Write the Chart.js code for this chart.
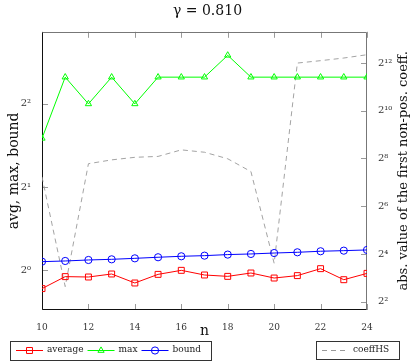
<!DOCTYPE html>
<html>
<head>
<meta charset="utf-8">
<script src="https://cdn.jsdelivr.net/npm/chart.js@4/dist/chart.umd.min.js"></script>
<style>
  html, body { margin: 0; padding: 0; background: #fff; }
  canvas { display: block; }
</style>
</head>
<body>
<canvas id="gammaChart" width="415" height="362"></canvas>
<script>
// values (log2 axes)
const nValues = [10, 11, 12, 13, 14, 15, 16, 17, 18, 19, 20, 21, 22, 23, 24];
const avgValues = [0.856, 0.946, 0.943, 0.967, 0.897, 0.964, 0.997, 0.959, 0.948, 0.975, 0.935, 0.954, 1.011, 0.922, 0.972];
const maxValues = [3, 5, 4, 5, 4, 5, 5, 5, 6, 5, 5, 5, 5, 5, 5];
const boundValues = [1.072, 1.078, 1.087, 1.093, 1.102, 1.112, 1.121, 1.127, 1.137, 1.143, 1.152, 1.159, 1.169, 1.175, 1.182];
const coeffValues = [150, 6.2, 220, 246, 265, 272, 329, 307, 254, 175, 12.2, 4096, 4390, 4740, 5220];

const xTicks = [10, 12, 14, 16, 18, 20, 22, 24];
const leftTicks = [1, 2, 4];
const rightTicks = [4, 16, 64, 256, 1024, 4096];
const rightTitle = 'abs. value of the first non-pos. coeff.';

const SERIF = '"DejaVu Serif", serif';
const supDigits = { '0': '⁰', '1': '¹', '2': '²', '3': '³', '4': '⁴', '5': '⁵', '6': '⁶', '7': '⁷', '8': '⁸', '9': '⁹' };

function powLabel(v) {
    const e = Math.round(Math.log2(v));
    return '2' + String(e).split('').map(c => supDigits[c]).join('');
}

function toPoints(values) {
    return nValues.map((n, i) => ({ x: n, y: values[i] }));
}

// inward tick marks and the axis frame, pgfplots style
const frameTicks = {
    id: 'frameTicks',
    beforeDatasetsDraw(chart) {
        const { ctx, chartArea: a, scales } = chart;
        const len = 6;
        ctx.save();
        ctx.lineWidth = 1;
        ctx.strokeStyle = '#9a9a9a';
        ctx.beginPath();
        xTicks.forEach(t => {
            const x = Math.round(scales.x.getPixelForValue(t)) + 0.5;
            ctx.moveTo(x, a.top); ctx.lineTo(x, a.top + len);
            ctx.moveTo(x, a.bottom); ctx.lineTo(x, a.bottom - len);
        });
        leftTicks.forEach(t => {
            const y = Math.round(scales.y.getPixelForValue(t)) + 0.5;
            ctx.moveTo(a.left, y); ctx.lineTo(a.left + len, y);
        });
        rightTicks.forEach(t => {
            const y = Math.round(scales.y2.getPixelForValue(t)) + 0.5;
            ctx.moveTo(a.right, y); ctx.lineTo(a.right - len, y);
        });
        ctx.stroke();

        const l = Math.round(a.left) + 0.5, r = Math.round(a.right) - 0.5;
        const t = Math.round(a.top) + 0.5, b = Math.round(a.bottom) - 0.5;
        ctx.strokeStyle = '#777';
        ctx.beginPath();
        ctx.moveTo(l, t); ctx.lineTo(r, t); ctx.lineTo(r, b);
        ctx.stroke();
        ctx.strokeStyle = '#111';
        ctx.beginPath();
        ctx.moveTo(l, t); ctx.lineTo(l, b); ctx.lineTo(r, b);
        ctx.stroke();

        // right axis title reads bottom-to-top like the left one
        ctx.fillStyle = '#111';
        ctx.font = '13px ' + SERIF;
        ctx.textAlign = 'center';
        ctx.textBaseline = 'middle';
        ctx.translate(404, (a.top + a.bottom) / 2);
        ctx.rotate(-Math.PI / 2);
        ctx.fillText(rightTitle, 0, 0);
        ctx.restore();
    }
};

// two boxed legends under the plot
const boxLegend = {
    id: 'boxLegend',
    afterDraw(chart) {
        const ctx = chart.ctx;
        const ds = chart.data.datasets;
        ctx.save();
        ctx.font = '9px ' + SERIF;
        ctx.textBaseline = 'middle';
        ctx.textAlign = 'left';

        ctx.lineWidth = 1;
        ctx.strokeStyle = '#333';
        ctx.setLineDash([]);
        ctx.strokeRect(10.5, 341.5, 201, 19);
        ctx.strokeRect(316.5, 341.5, 83, 18);

        const y = 350.5;
        let x = 16;
        for (let i = 0; i < 3; i++) {
            const d = ds[i];
            ctx.strokeStyle = d.borderColor;
            ctx.fillStyle = 'rgba(0,0,0,0)';
            ctx.lineWidth = 1;
            ctx.beginPath();
            ctx.moveTo(x, y); ctx.lineTo(x + 27, y);
            ctx.stroke();
            Chart.helpers.drawPoint(ctx, {
                pointStyle: d.pointStyle, radius: d.pointRadius, borderWidth: 1, rotation: 0
            }, x + 13.5, y);
            ctx.fillStyle = '#222';
            ctx.fillText(d.label, x + 31, y - 1);
            x = x + 31 + ctx.measureText(d.label).width + 4;
        }

        const c = ds[3];
        ctx.strokeStyle = c.borderColor;
        ctx.setLineDash(c.borderDash);
        ctx.beginPath();
        ctx.moveTo(322, y); ctx.lineTo(346, y);
        ctx.stroke();
        ctx.setLineDash([]);
        ctx.fillStyle = '#222';
        ctx.fillText(c.label, 353, y - 1);
        ctx.restore();
    }
};

const chart = new Chart(document.getElementById('gammaChart').getContext('2d'), {
    type: 'line',
    data: {
        datasets: [{
            label: 'average',
            data: toPoints(avgValues),
            yAxisID: 'y',
            borderColor: '#ff0000',
            backgroundColor: 'rgba(0,0,0,0)',
            borderWidth: 1,
            pointStyle: 'rect',
            pointRadius: 4.2,
            pointBorderWidth: 1,
            pointBackgroundColor: 'rgba(0,0,0,0)'
        }, {
            label: 'max',
            data: toPoints(maxValues),
            yAxisID: 'y',
            borderColor: '#00ff00',
            backgroundColor: 'rgba(0,0,0,0)',
            borderWidth: 1,
            pointStyle: 'triangle',
            pointRadius: 3.6,
            pointBorderWidth: 1,
            pointBackgroundColor: 'rgba(0,0,0,0)'
        }, {
            label: 'bound',
            data: toPoints(boundValues),
            yAxisID: 'y',
            borderColor: '#0000ff',
            backgroundColor: 'rgba(0,0,0,0)',
            borderWidth: 1,
            pointStyle: 'circle',
            pointRadius: 3.6,
            pointBorderWidth: 1,
            pointBackgroundColor: 'rgba(0,0,0,0)'
        }, {
            label: 'coeffHS',
            data: toPoints(coeffValues),
            yAxisID: 'y2',
            borderColor: '#999999',
            backgroundColor: 'rgba(0,0,0,0)',
            borderWidth: 0.9,
            borderDash: [5, 4],
            pointRadius: 0
        }]
    },
    plugins: [frameTicks, boxLegend],
    options: {
        responsive: false,
        animation: false,
        devicePixelRatio: 1,
        layout: { padding: { top: 0, left: 0, right: 0, bottom: 22 } },
        plugins: {
            legend: { display: false },
            tooltip: { enabled: false },
            title: {
                display: true,
                text: 'γ = 0.810',
                color: '#111',
                font: { family: SERIF, size: 14, weight: 'normal' },
                padding: { top: 3, bottom: 12 }
            }
        },
        scales: {
            x: {
                type: 'linear',
                min: 10,
                max: 24,
                grid: { display: false },
                border: { display: false },
                afterBuildTicks: s => { s.ticks = xTicks.map(v => ({ value: v })); },
                afterFit: s => { s.height = 30; },
                ticks: {
                    padding: 4,
                    color: '#333',
                    font: { family: SERIF, size: 9 },
                    maxRotation: 0
                },
                title: {
                    display: true,
                    text: 'n',
                    color: '#111',
                    font: { family: SERIF, size: 14 },
                    padding: { top: 0, bottom: 0 }
                }
            },
            y: {
                type: 'logarithmic',
                position: 'left',
                min: 0.716,
                max: 7.30,
                bounds: 'data',
                grid: { display: false },
                border: { display: false },
                afterBuildTicks: s => { s.ticks = leftTicks.map(v => ({ value: v })); },
                afterFit: s => { s.width = 42; },
                ticks: {
                    padding: 3,
                    color: '#333',
                    font: { family: SERIF, size: 10 },
                    callback: v => powLabel(v)
                },
                title: {
                    display: true,
                    text: 'avg, max, bound',
                    color: '#111',
                    font: { family: SERIF, size: 14 },
                    padding: { top: 6, bottom: 0 }
                }
            },
            y2: {
                type: 'logarithmic',
                position: 'right',
                min: 3.14,
                max: 10154,
                bounds: 'data',
                grid: { display: false },
                border: { display: false },
                afterBuildTicks: s => { s.ticks = rightTicks.map(v => ({ value: v })); },
                afterFit: s => { s.width = 48; },
                ticks: {
                    padding: 3,
                    color: '#333',
                    font: { family: SERIF, size: 10 },
                    callback: v => powLabel(v)
                },
                title: { display: false }
            }
        }
    }
});
</script>
</body>
</html>
